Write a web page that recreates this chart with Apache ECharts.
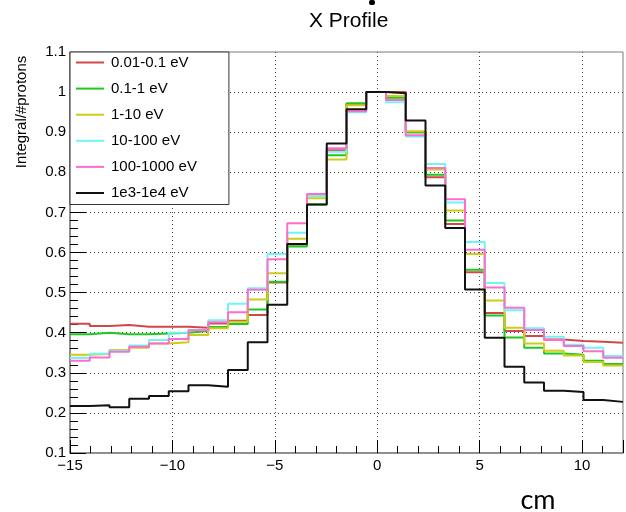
<!DOCTYPE html>
<html>
<head>
<meta charset="utf-8">
<script src="https://cdn.jsdelivr.net/npm/echarts@6/dist/echarts.min.js"></script>
<style>
html,body{margin:0;padding:0;background:#fff;}
#chart{width:626px;height:512px;}
</style>
</head>
<body>
<div id="chart"></div>
<script>
// Histogram definition (ROOT-like): 28 bins between -15 and 12
const xMin = -15, xMax = 12, nBins = 28;
const seriesNames = ['0.01-0.1 eV', '0.1-1 eV', '1-10 eV', '10-100 eV', '100-1000 eV', '1e3-1e4 eV'];
const seriesColors = ['#d04848', '#1ec81e', '#cccc1a', '#6ff5f5', '#ff6ccf', '#111111'];

const red = [0.4225, 0.417, 0.419, 0.415, 0.415, 0.415, 0.4125, 0.423, 0.43, 0.444, 0.525, 0.62, 0.742, 0.855, 0.97, 1.0, 1.0, 0.9, 0.7875, 0.671, 0.551, 0.449, 0.404, 0.392, 0.383, 0.379, 0.3775, 0.375];
const green = [0.396, 0.4, 0.396, 0.396, 0.398, 0.4, 0.404, 0.414, 0.422, 0.458, 0.527, 0.615, 0.72, 0.8425, 0.9725, 1.0, 0.986, 0.9, 0.794, 0.68, 0.557, 0.443, 0.388, 0.3625, 0.348, 0.345, 0.33, 0.322];
const yellow = [0.345, 0.347, 0.357, 0.3625, 0.373, 0.376, 0.394, 0.411, 0.427, 0.483, 0.548, 0.634, 0.735, 0.832, 0.967, 1.0, 0.99, 0.9025, 0.807, 0.705, 0.596, 0.48, 0.4125, 0.373, 0.355, 0.343, 0.327, 0.318];
const cyan = [0.337, 0.3475, 0.355, 0.368, 0.382, 0.4, 0.407, 0.431, 0.472, 0.511, 0.596, 0.649, 0.741, 0.851, 0.95, 1.0, 0.975, 0.889, 0.821, 0.725, 0.626, 0.524, 0.456, 0.411, 0.39, 0.37, 0.3625, 0.342];
const pink = [0.33, 0.338, 0.3525, 0.365, 0.373, 0.384, 0.406, 0.426, 0.451, 0.507, 0.583, 0.673, 0.746, 0.86, 0.9525, 1.0, 0.98, 0.8925, 0.811, 0.733, 0.607, 0.5125, 0.4625, 0.407, 0.382, 0.367, 0.354, 0.3375];
const black = [0.217, 0.219, 0.214, 0.235, 0.242, 0.254, 0.269, 0.265, 0.307, 0.376, 0.47, 0.621, 0.72, 0.872, 0.957, 1.0, 0.997, 0.929, 0.767, 0.661, 0.508, 0.3875, 0.315, 0.276, 0.255, 0.252, 0.232, 0.2275];

const allValues = [red, green, yellow, cyan, pink, black];

const binEdges = [];
for (let i = 0; i <= nBins; i++) binEdges.push(xMin + i * (xMax - xMin) / nBins);

function toSteps(vals) {
  const pts = vals.map((v, i) => [binEdges[i], v]);
  pts.push([binEdges[nBins], vals[nBins - 1]]);
  return pts;
}

const FONT = '"Liberation Sans", Arial, sans-serif';

const chart = echarts.init(document.getElementById('chart'), null, {renderer: 'canvas'});
chart.setOption({
  animation: false,
  backgroundColor: '#ffffff',
  title: {
    text: 'X Profile',
    left: 304, top: 6,
    textStyle: {fontFamily: FONT, fontSize: 21, fontWeight: 'normal', color: '#000'}
  },
  grid: {
    left: 70, top: 52, right: 0, bottom: 59,
    show: true, borderColor: '#7a7a7a', borderWidth: 1, backgroundColor: 'transparent'
  },
  legend: {
    orient: 'vertical',
    left: 70, top: 52,
    padding: [3, 32, 4, 5],
    itemGap: 11.1,
    itemWidth: 28, itemHeight: 14,
    backgroundColor: '#ffffff',
    borderColor: '#333', borderWidth: 1,
    borderRadius: 0,
    itemStyle: {opacity: 0, color: 'transparent', borderWidth: 0},
    lineStyle: {width: 2},
    textStyle: {fontFamily: FONT, fontSize: 15, color: '#000', padding: [0, 0, 0, 2]},
    data: seriesNames
  },
  xAxis: [{
    type: 'value', min: xMin, max: xMax, interval: 5,
    axisLine: {show: true, onZero: false, lineStyle: {color: '#808080', width: 1.5}},
    axisTick: {show: true, inside: true, length: 13, lineStyle: {color: '#000', width: 1}},
    axisLabel: {
      fontFamily: FONT, fontSize: 15, color: '#000', margin: 5,
      formatter: v => (Math.abs(v - xMax) < 1e-9 ? '' : (v < 0 ? '\u2212' + Math.abs(v) : String(v)))
    },
    splitLine: {show: true, showMinLine: false, showMaxLine: false, lineStyle: {type: [1, 3], color: '#444', width: 1}}
  }, {
    type: 'value', min: xMin, max: xMax, interval: 1, position: 'bottom',
    axisLine: {show: false},
    axisTick: {show: true, inside: true, length: 7, lineStyle: {color: '#000', width: 1}},
    axisLabel: {show: false},
    splitLine: {show: false}
  }],
  yAxis: {
    type: 'value', min: 0.1, max: 1.1, interval: 0.1,
    axisLine: {show: true, onZero: false, lineStyle: {color: '#808080', width: 1.5}},
    axisTick: {show: true, inside: true, length: 16, lineStyle: {color: '#000', width: 1}},
    minorTick: {show: true, splitNumber: 5, length: 8, lineStyle: {color: '#000', width: 1}},
    axisLabel: {
      fontFamily: FONT, fontSize: 15, color: '#000', margin: 4,
      formatter: v => String(+v.toFixed(1))
    },
    splitLine: {show: true, showMinLine: false, showMaxLine: false, lineStyle: {type: [1, 3], color: '#444', width: 1}}
  },
  graphic: [
    {
      type: 'text', x: 22, y: 112, rotation: Math.PI / 2,
      style: {text: 'Integral/#protons', fontFamily: FONT, fontSize: 15, fill: '#000', align: 'center', verticalAlign: 'middle'}
    },
    {
      type: 'text', x: 538, y: 500,
      style: {text: 'cm', fontFamily: 'Lato, "Open Sans", sans-serif', fontSize: 27, fill: '#000', align: 'center', verticalAlign: 'middle'}
    },
    {
      type: 'rect', shape: {x: 369, y: 0, width: 6, height: 5, r: 2}, style: {fill: '#000'}
    }
  ],
  series: seriesNames.map((name, i) => ({
    name: name,
    type: 'line',
    step: 'end',
    xAxisIndex: 0,
    symbol: 'none',
    showSymbol: false,
    color: seriesColors[i],
    lineStyle: {color: seriesColors[i], width: 2},
    data: toSteps(allValues[i])
  }))
});
</script>
</body>
</html>
